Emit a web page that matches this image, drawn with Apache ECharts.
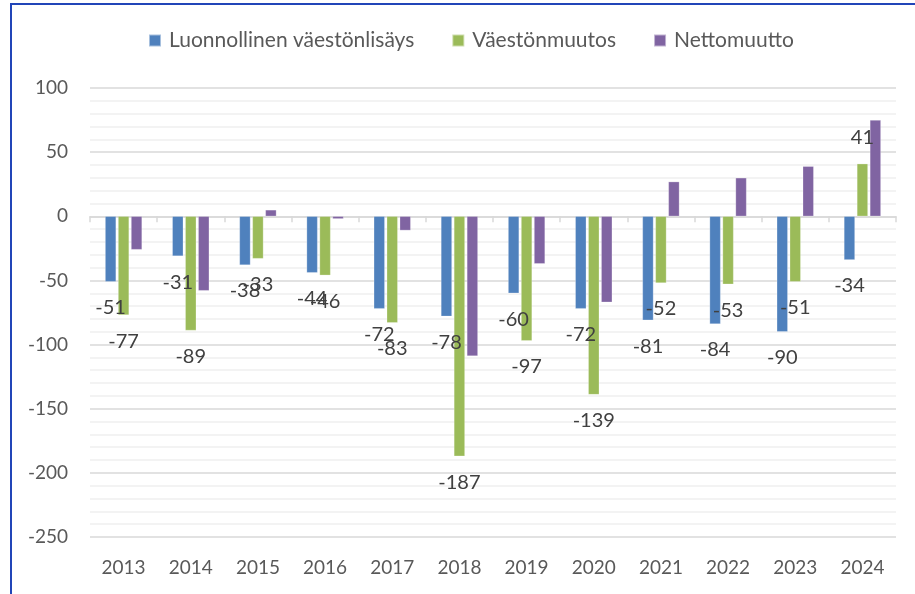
<!DOCTYPE html>
<html>
<head>
<meta charset="utf-8">
<script src="https://cdn.jsdelivr.net/npm/echarts@6/dist/echarts.min.js"></script>
<style>
  html, body { margin: 0; padding: 0; background: #fff; overflow: hidden; }
  #frame { position: absolute; left: 10px; top: 3px; width: 1000px; height: 700px;
           border-left: 2px solid #2145b8; border-top: 2px solid #2145b8; }
  #chart { position: absolute; left: 0; top: 0; width: 915px; height: 594px; }
</style>
</head>
<body>
<div id="frame"></div>
<div id="chart"></div>
<script>
// vuodet ja sarjat
var years = ['2013','2014','2015','2016','2017','2018','2019','2020','2021','2022','2023','2024'];
var luonnollinen = [-51, -31, -38, -44, -72, -78, -60, -72, -81, -84, -90, -34];
var vaestonmuutos = [-77, -89, -33, -46, -83, -187, -97, -139, -52, -53, -51, 41];
var nettomuutto = [-26, -58, 5, -2, -11, -109, -37, -67, 27, 30, 39, 75];

var chart = echarts.init(document.getElementById('chart'));

var fontName = 'Lato';
var labelStyle = {
    show: true,
    position: 'outside',
    distance: 16,
    fontFamily: fontName,
    fontSize: 20,
    color: '#404040'
};

var option = {
    animation: false,
    color: ['#4f81bd', '#9bbb59', '#8064a2'],
    legend: {
        top: 25,
        left: 143,
        itemWidth: 12,
        itemHeight: 12,
        itemGap: 37,
        icon: 'rect',
        textStyle: { fontFamily: fontName, fontSize: 21, color: '#595959', padding: [0, 0, 0, 3] },
        data: ['Luonnollinen väestönlisäys', 'Väestönmuutos', 'Nettomuutto']
    },
    grid: { left: 90, right: 19, top: 88, bottom: 57, outerBoundsMode: 'none' },
    xAxis: [
        {
            // nollaviiva ja väliviivat
            type: 'category',
            data: years,
            axisLine: { lineStyle: { color: '#d9d9d9', width: 1.5 } },
            axisTick: { show: true, length: 6, lineStyle: { color: '#d9d9d9', width: 1.5 } },
            axisLabel: { show: false }
        },
        {
            // vuosiluvut alareunassa
            type: 'category',
            data: years,
            position: 'bottom',
            axisLine: { show: false, onZero: false },
            axisTick: { show: false },
            axisLabel: { fontFamily: fontName, fontSize: 19, color: '#595959', margin: 21 }
        }
    ],
    yAxis: {
        type: 'value',
        min: -250,
        max: 100,
        interval: 50,
        axisLine: { show: false },
        axisTick: { show: false },
        axisLabel: { fontFamily: fontName, fontSize: 19, color: '#595959', margin: 22 },
        splitLine: { lineStyle: { color: '#d9d9d9', width: 1.5 } },
        minorTick: { show: false, splitNumber: 5 },
        minorSplitLine: { show: true, lineStyle: { color: '#efefef', width: 1.5 } }
    },
    series: [
        {
            name: 'Luonnollinen väestönlisäys',
            type: 'bar',
            data: luonnollinen,
            barGap: '18%',
            barCategoryGap: '45%',
            itemStyle: { borderColor: 'rgba(255,255,255,0.5)', borderWidth: 0.5 },
            label: labelStyle
        },
        {
            name: 'Väestönmuutos',
            type: 'bar',
            data: vaestonmuutos,
            itemStyle: { borderColor: 'rgba(255,255,255,0.5)', borderWidth: 0.5 },
            label: labelStyle
        },
        {
            name: 'Nettomuutto',
            type: 'bar',
            data: nettomuutto,
            itemStyle: { borderColor: 'rgba(255,255,255,0.5)', borderWidth: 0.5 }
        }
    ]
};

chart.setOption(option);
</script>
</body>
</html>
